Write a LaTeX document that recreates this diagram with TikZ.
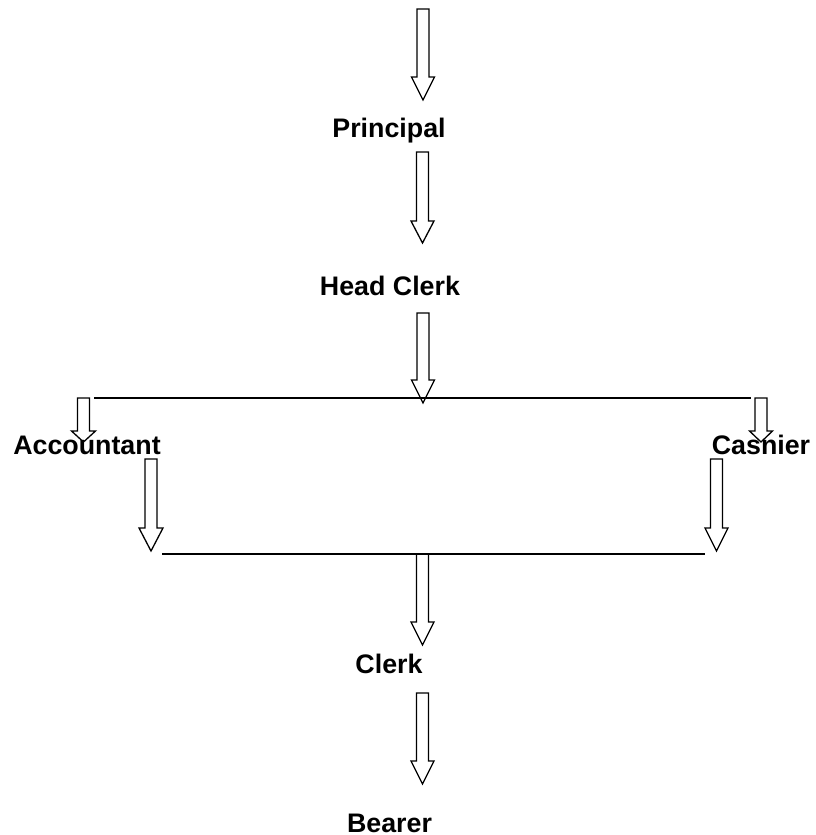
\documentclass[tikz,border=0pt]{standalone}
\usepackage{fontspec}
\setmainfont{Liberation Sans}
\begin{document}
\begin{tikzpicture}[x=1pt,y=-1pt,
  lbl/.style={font=\bfseries\fontsize{26.8}{30}\selectfont, anchor=base, inner sep=0pt},
  bar/.style={line width=1.3pt, line join=miter},
  hline/.style={line width=1.3pt}]
\useasboundingbox (0,0) rectangle (815,835);
% block arrow: #1 x centre, #2 top, #3 head start, #4 tip, #5 shaft half width, #6 head half width
\newcommand\blkarrow[6]{%
  \draw[bar] (#1-#5,#2) -- (#1+#5,#2) -- (#1+#5,#3) -- (#1+#6,#3) -- (#1,#4)
    -- (#1-#6,#3) -- (#1-#5,#3) -- cycle;}
% labels
\node[lbl] (principal) at (389,137) {Principal};
\node[lbl] (headclerk) at (390,295) {Head Clerk};
\node[lbl] (accountant) at (87,454) {Accountant};
\node[lbl] (cashier) at (761,454) {Casnier};
\node[lbl] (clerk) at (389,673) {Clerk};
\node[lbl] (bearer) at (389.5,832) {Bearer};
% lines
\coordinate (l1a) at (94,398); \coordinate (l1b) at (751,398);
\coordinate (l2a) at (162,554); \coordinate (l2b) at (705,554);
\draw[hline] (l1a) -- (l1b);
\draw[hline] (l2a) -- (l2b);
% arrows
\blkarrow{423}{9}{77}{100}{6}{11.5}
\blkarrow{422.5}{152}{221}{243}{6}{11.5}
\blkarrow{423}{313}{380}{403}{6}{11.5}
\blkarrow{83.5}{398}{431}{442}{6}{12}
\blkarrow{761}{398}{431}{442}{6}{11.5}
\blkarrow{151}{459}{528}{551}{6}{12}
\blkarrow{716.5}{459}{528}{551}{6}{11.5}
\blkarrow{422.5}{554}{622}{645}{6}{11.5}
\blkarrow{422.5}{693}{761}{784}{6}{11.5}
\end{tikzpicture}
\end{document}
